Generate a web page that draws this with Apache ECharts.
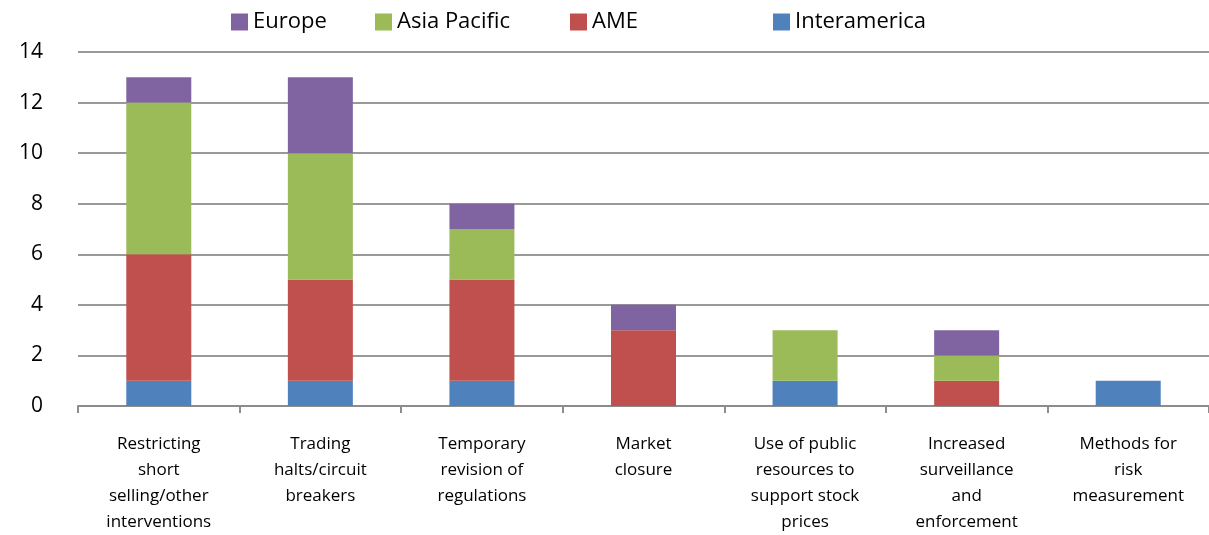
<!DOCTYPE html>
<html>
<head>
<meta charset="utf-8">
<script src="https://cdn.jsdelivr.net/npm/echarts@6/dist/echarts.min.js"></script>
<style>
  html, body { margin: 0; padding: 0; background: #fff; overflow: hidden; }
  #chart { width: 1209px; height: 535px; }
</style>
</head>
<body>
<div id="chart"></div>
<script>
// data
const categories = [
  'Restricting\nshort\nselling/other\ninterventions',
  'Trading\nhalts/circuit\nbreakers',
  'Temporary\nrevision of\nregulations',
  'Market\nclosure',
  'Use of public\nresources to\nsupport stock\nprices',
  'Increased\nsurveillance\nand\nenforcement',
  'Methods for\nrisk\nmeasurement'
];
const interamerica = [1, 1, 1, 0, 1, 0, 1];
const ame = [5, 4, 4, 3, 0, 1, 0];
const asiaPacific = [6, 5, 2, 0, 2, 1, 0];
const europe = [1, 3, 1, 1, 0, 1, 0];
const yTicks = [0, 2, 4, 6, 8, 10, 12, 14];

const colors = {
  Europe: '#8064A2',
  'Asia Pacific': '#9BBB59',
  AME: '#C0504D',
  Interamerica: '#4F81BD'
};

const font = "'Open Sans', 'Liberation Sans', sans-serif";

const chart = echarts.init(document.getElementById('chart'));

function legendAt(name, left) {
  return {
    data: [name],
    top: 6,
    left: left,
    icon: 'rect',
    itemWidth: 17,
    itemHeight: 17,
    itemGap: 8,
    textStyle: { fontFamily: font, fontSize: 22, color: '#000' }
  };
}

function bar(name, data) {
  return {
    name: name,
    type: 'bar',
    stack: 'total',
    data: data,
    barWidth: 65,
    itemStyle: { color: colors[name] },
    emphasis: { disabled: true }
  };
}

chart.setOption({
  animation: false,
  legend: [
    legendAt('Europe', 226),
    legendAt('Asia Pacific', 370),
    legendAt('AME', 565),
    legendAt('Interamerica', 768)
  ],
  grid: { left: 78, right: -5, top: 52, bottom: 127 },
  xAxis: {
    type: 'category',
    data: categories,
    axisLine: { lineStyle: { color: '#8c8c8c', width: 2 } },
    axisTick: { show: true, length: 7, lineStyle: { color: '#8c8c8c', width: 2 } },
    axisLabel: {
      fontFamily: font,
      fontSize: 17,
      color: '#000',
      lineHeight: 26,
      margin: 25,
      interval: 0,
      align: 'center'
    }
  },
  yAxis: {
    type: 'value',
    min: yTicks[0],
    max: yTicks[yTicks.length - 1],
    interval: 2,
    axisLine: { show: false },
    axisTick: { show: false },
    axisLabel: {
      fontFamily: font,
      fontSize: 21,
      color: '#000',
      margin: 35,
      align: 'right'
    },
    splitLine: { lineStyle: { color: '#999', width: 2 } }
  },
  series: [
    bar('Interamerica', interamerica),
    bar('AME', ame),
    bar('Asia Pacific', asiaPacific),
    bar('Europe', europe)
  ]
});
</script>
</body>
</html>
